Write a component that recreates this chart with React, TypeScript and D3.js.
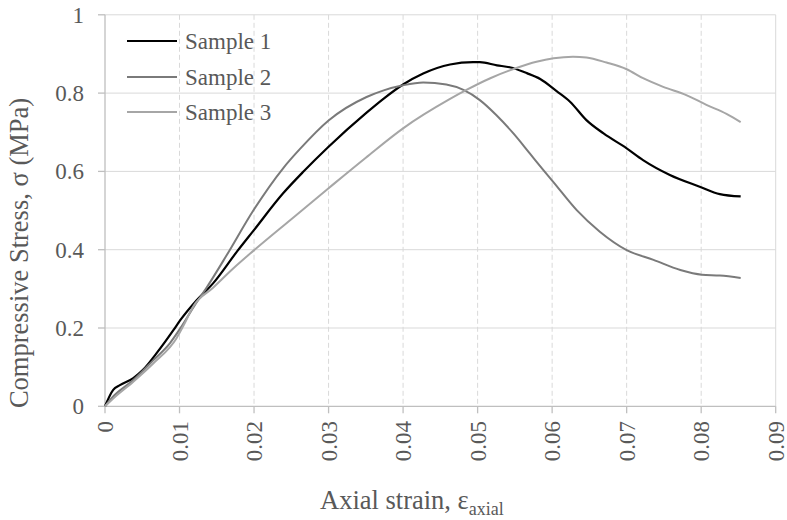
import React from "react";
import * as d3 from "d3";

const xTicks = [0, 0.01, 0.02, 0.03, 0.04, 0.05, 0.06, 0.07, 0.08, 0.09];
const xTickLabels = ["0", "0.01", "0.02", "0.03", "0.04", "0.05", "0.06", "0.07", "0.08", "0.09"];
const yTicks = [0, 0.2, 0.4, 0.6, 0.8, 1];
const yTickLabels = ["0", "0.2", "0.4", "0.6", "0.8", "1"];

const seriesNames = ["Sample 1", "Sample 2", "Sample 3"];

const s1Strain = [0, 0.0011, 0.002, 0.0038, 0.0051, 0.0069, 0.0092, 0.0101, 0.0123, 0.0145, 0.0177, 0.0199, 0.0239, 0.0266, 0.03, 0.0351, 0.0374, 0.04, 0.0427, 0.0463, 0.0494, 0.0503, 0.0526, 0.0543, 0.0566, 0.0584, 0.0606, 0.0624, 0.0646, 0.0669, 0.07, 0.0722, 0.0758, 0.0798, 0.0825, 0.0853];
const s1Stress = [0, 0.042, 0.054, 0.072, 0.093, 0.135, 0.195, 0.22, 0.271, 0.314, 0.395, 0.448, 0.544, 0.599, 0.663, 0.75, 0.786, 0.822, 0.85, 0.873, 0.879, 0.879, 0.871, 0.866, 0.851, 0.836, 0.805, 0.778, 0.731, 0.697, 0.659, 0.629, 0.591, 0.561, 0.542, 0.536];

const s2Strain = [0, 0.0011, 0.0038, 0.0065, 0.0087, 0.0101, 0.0119, 0.0137, 0.0163, 0.0199, 0.0239, 0.0262, 0.03, 0.0351, 0.0374, 0.04, 0.0427, 0.0458, 0.0481, 0.0503, 0.0525, 0.0548, 0.057, 0.0588, 0.0602, 0.0633, 0.0664, 0.07, 0.0736, 0.0772, 0.0801, 0.0825, 0.0853];
const s2Stress = [0, 0.025, 0.067, 0.118, 0.161, 0.199, 0.254, 0.305, 0.385, 0.5, 0.608, 0.658, 0.73, 0.79, 0.807, 0.82, 0.827, 0.822, 0.808, 0.782, 0.744, 0.697, 0.646, 0.604, 0.572, 0.501, 0.446, 0.399, 0.374, 0.348, 0.336, 0.334, 0.328];

const s3Strain = [0, 0.0011, 0.0038, 0.0065, 0.0096, 0.0105, 0.0119, 0.0145, 0.0172, 0.0199, 0.025, 0.03, 0.035, 0.04, 0.0463, 0.0485, 0.0517, 0.0552, 0.0579, 0.0602, 0.0628, 0.0646, 0.0673, 0.07, 0.0722, 0.0749, 0.078, 0.0807, 0.0834, 0.0853];
const s3Stress = [0, 0.02, 0.063, 0.11, 0.174, 0.205, 0.257, 0.303, 0.352, 0.397, 0.478, 0.557, 0.635, 0.71, 0.785, 0.808, 0.838, 0.864, 0.88, 0.889, 0.893, 0.891, 0.878, 0.861, 0.838, 0.816, 0.795, 0.77, 0.747, 0.726];

const colors = ["#000000", "#7a7a7a", "#a6a6a6"];
const FONT = "'Liberation Serif', 'Times New Roman', serif";
const TEXT = "#595959";

export default function App() {
  const W = 787, H = 520;
  const x = d3.scaleLinear().domain([0, 0.09]).range([105, 775.7]);
  const y = d3.scaleLinear().domain([0, 1]).range([406.3, 14.8]);
  const line = d3
    .line<[number, number]>()
    .x((d) => x(d[0]))
    .y((d) => y(d[1]))
    .curve(d3.curveMonotoneX);
  const series = [
    d3.zip(s1Strain, s1Stress) as [number, number][],
    d3.zip(s2Strain, s2Stress) as [number, number][],
    d3.zip(s3Strain, s3Stress) as [number, number][],
  ];
  const [x0, x1] = x.range();
  const [y0, y1] = y.range();
  const legendY = [41, 77, 112];

  return (
    <svg width={W} height={H} style={{ position: "absolute", left: 0, top: 0, background: "#fff" }} fontFamily={FONT}>
      <rect x={0} y={0} width={W} height={H} fill="#fff" />
      {xTicks.slice(1, -1).map((t) => (
        <line key={"vx" + t} x1={x(t)} x2={x(t)} y1={y1} y2={y0} stroke="#d9d9d9" strokeWidth={1} strokeDasharray="5,3" />
      ))}
      {yTicks.slice(1).map((t) => (
        <line key={"hy" + t} x1={x0} x2={x1} y1={y(t)} y2={y(t)} stroke="#d9d9d9" strokeWidth={1} />
      ))}
      <line x1={x1} x2={x1} y1={y1} y2={y0} stroke="#d9d9d9" strokeWidth={1} />
      <line x1={x0} x2={x0} y1={y1} y2={y0} stroke="#bfbfbf" strokeWidth={1.3} />
      <line x1={x0} x2={x1} y1={y0} y2={y0} stroke="#bfbfbf" strokeWidth={1.3} />
      {yTicks.map((t) => (
        <line key={"ty" + t} x1={x0 - 7} x2={x0} y1={y(t)} y2={y(t)} stroke="#bfbfbf" strokeWidth={1.3} />
      ))}
      {xTicks.map((t) => (
        <line key={"tx" + t} x1={x(t)} x2={x(t)} y1={y0} y2={y0 + 7} stroke="#bfbfbf" strokeWidth={1.3} />
      ))}
      {yTicks.map((t, i) => (
        <text key={"ly" + t} x={84} y={y(t)} dy="0.35em" textAnchor="end" fontSize={23} fill={TEXT}>
          {yTickLabels[i]}
        </text>
      ))}
      {xTicks.map((t, i) => (
        <text
          key={"lx" + t}
          transform={`translate(${x(t)},${421}) rotate(-90)`}
          dy="0.35em"
          textAnchor="end"
          fontSize={23}
          fill={TEXT}
        >
          {xTickLabels[i]}
        </text>
      ))}
      {series.map((s, i) => (
        <path key={"s" + i} d={line(s) || ""} fill="none" stroke={colors[i]} strokeWidth={i === 0 ? 2.2 : 2} strokeLinejoin="round" />
      ))}
      {seriesNames.map((n, i) => (
        <g key={"lg" + i}>
          <line x1={127} x2={177} y1={legendY[i]} y2={legendY[i]} stroke={colors[i]} strokeWidth={2} />
          <text x={185} y={legendY[i]} dy="0.35em" fontSize={23} fill={TEXT}>
            {n}
          </text>
        </g>
      ))}
      <text transform="translate(28,253) rotate(-90)" textAnchor="middle" fontSize={26.5} fill={TEXT}>
        Compressive Stress, σ (MPa)
      </text>
      <text x={320} y={509} fontSize={26.5} fill={TEXT}>
        Axial strain, ε
        <tspan fontSize={18} dy={6}>axial</tspan>
      </text>
    </svg>
  );
}
